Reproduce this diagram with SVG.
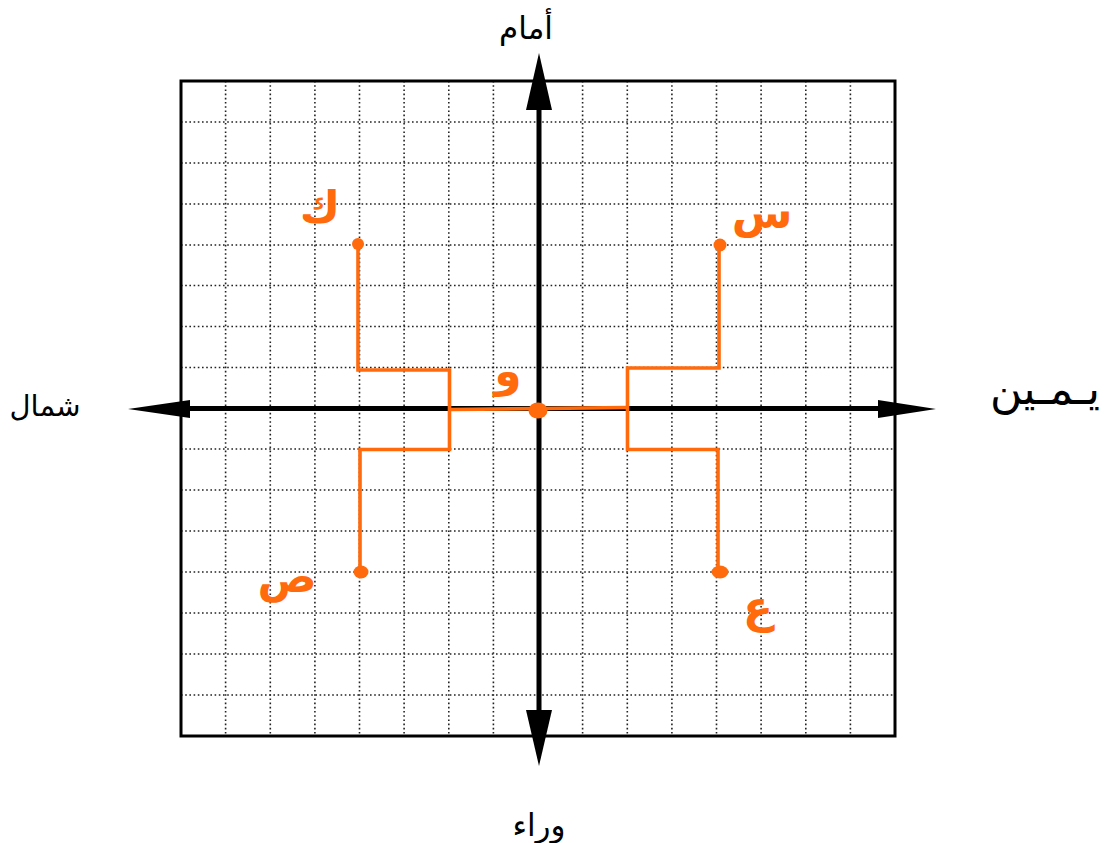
<svg xmlns="http://www.w3.org/2000/svg" width="1109" height="843" viewBox="0 0 1109 843">
<style>
.grid line{stroke:#222;stroke-width:1.6;stroke-dasharray:1.6 2.6}
.ax{stroke:#000;stroke-width:5}
.ah{fill:#000}
.lbl{font-family:"DejaVu Sans",sans-serif;fill:#000;text-anchor:middle}
.or{fill:none;stroke:#ff6a0c;stroke-width:3.6;stroke-linejoin:miter}
.dot{fill:#ff6a0c}
.ol{font-family:"DejaVu Sans",sans-serif;fill:#ff6a0c;text-anchor:middle;font-size:44px;font-weight:bold}
</style>
<rect width="1109" height="843" fill="#fff"/>
<g id="grid" class="grid">
<line x1="225.6" y1="81" x2="225.6" y2="736"/>
<line x1="270.3" y1="81" x2="270.3" y2="736"/>
<line x1="314.9" y1="81" x2="314.9" y2="736"/>
<line x1="359.5" y1="81" x2="359.5" y2="736"/>
<line x1="404.1" y1="81" x2="404.1" y2="736"/>
<line x1="448.8" y1="81" x2="448.8" y2="736"/>
<line x1="493.4" y1="81" x2="493.4" y2="736"/>
<line x1="582.6" y1="81" x2="582.6" y2="736"/>
<line x1="627.3" y1="81" x2="627.3" y2="736"/>
<line x1="671.9" y1="81" x2="671.9" y2="736"/>
<line x1="716.5" y1="81" x2="716.5" y2="736"/>
<line x1="761.1" y1="81" x2="761.1" y2="736"/>
<line x1="805.8" y1="81" x2="805.8" y2="736"/>
<line x1="850.4" y1="81" x2="850.4" y2="736"/>
<line x1="181" y1="122" x2="895" y2="122"/>
<line x1="181" y1="163" x2="895" y2="163"/>
<line x1="181" y1="204" x2="895" y2="204"/>
<line x1="181" y1="245" x2="895" y2="245"/>
<line x1="181" y1="285.5" x2="895" y2="285.5"/>
<line x1="181" y1="326.5" x2="895" y2="326.5"/>
<line x1="181" y1="367.5" x2="895" y2="367.5"/>
<line x1="181" y1="449" x2="895" y2="449"/>
<line x1="181" y1="490" x2="895" y2="490"/>
<line x1="181" y1="531" x2="895" y2="531"/>
<line x1="181" y1="572" x2="895" y2="572"/>
<line x1="181" y1="613" x2="895" y2="613"/>
<line x1="181" y1="654" x2="895" y2="654"/>
<line x1="181" y1="695" x2="895" y2="695"/>
</g>
<rect id="frame" x="181" y="81" width="714" height="655" fill="none" stroke="#000" stroke-width="3"/>
<g id="axes">
<line class="ax" x1="539" y1="100" x2="539" y2="720"/>
<line class="ax" x1="175" y1="408.5" x2="890" y2="408.5"/>
<path class="ah" d="M539,53 L552,110 L526,110 Z"/>
<path class="ah" d="M539,766 L552,710 L526,710 Z"/>
<path class="ah" d="M128,409 L190,400 L190,418 Z"/>
<path class="ah" d="M936,409 L878,400 L878,418 Z"/>
</g>
<g id="labels">
<text class="lbl" x="526" y="39" font-size="31">أمام</text>
<text class="lbl" x="539" y="836" font-size="31">وراء</text>
<text class="lbl" x="45" y="416" font-size="29">شمال</text>
<text class="lbl" x="1045" y="404" font-size="44">يـمـين</text>
</g>
<g id="connectors">
<polyline class="or" points="358,244 358,370 449.5,370 449.5,449.5 360,449.5 360,572"/>
<polyline class="or" points="719,245 719,368 627.5,368 627.5,449.5 718,449.5 718,573"/>
<line class="or" x1="450" y1="409.5" x2="628" y2="407.5"/>
</g>
<g id="points">
<circle class="dot" cx="358" cy="244" r="6"/>
<circle class="dot" cx="720" cy="245" r="6.5"/>
<ellipse class="dot" cx="361" cy="572" rx="7.5" ry="6.5"/>
<ellipse class="dot" cx="720" cy="572" rx="8.5" ry="6.5"/>
<ellipse class="dot" cx="538" cy="410.5" rx="9.5" ry="8"/>
</g>
<g id="point-labels">
<text class="ol" x="320" y="222">ك</text>
<text class="ol" x="762" y="228">س</text>
<text class="ol" x="287" y="592">ص</text>
<text class="ol" x="758" y="622">ع</text>
<text class="ol" x="508" y="386">و</text>
</g>
</svg>
